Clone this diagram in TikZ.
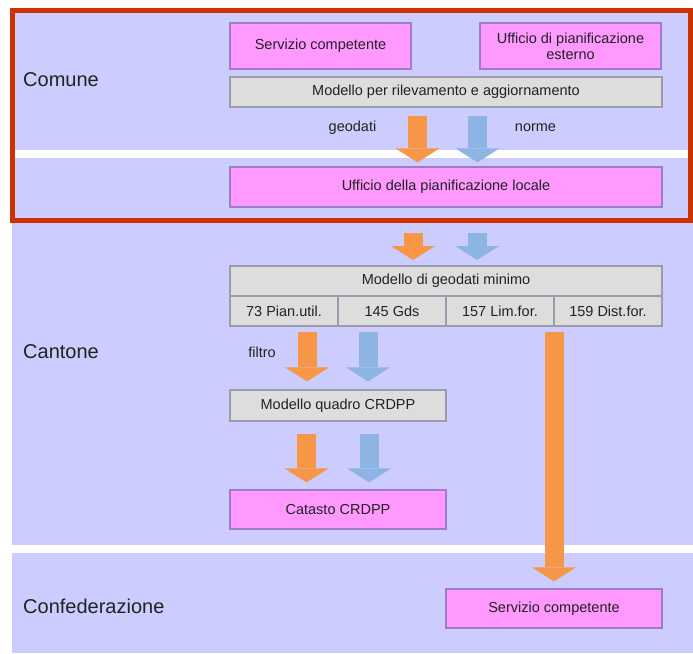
\documentclass[tikz,border=0pt]{standalone}
\usepackage{fontspec}
\setmainfont{Liberation Sans}
\usetikzlibrary{arrows.meta, positioning}

\definecolor{bandlilac}{HTML}{CCCCFF}
\definecolor{boxpink}{HTML}{FF99FF}
\definecolor{pinkedge}{HTML}{9A7FC8}
\definecolor{boxgray}{HTML}{DDDDDD}
\definecolor{grayedge}{HTML}{9C9CAC}
\definecolor{geoorange}{HTML}{F79646}
\definecolor{normblue}{HTML}{8DB4E2}
\definecolor{framered}{HTML}{CC3300}
\definecolor{inkgray}{HTML}{222222}

\begin{document}
\begin{tikzpicture}[x=1pt, y=1pt,
  every node/.style={text=inkgray, font=\fontsize{14.5}{16}\selectfont, inner sep=0pt},
  level/.style={font=\fontsize{20}{24}\selectfont, anchor=west},
  office/.style={draw=pinkedge, fill=boxpink, line width=1.2pt, align=center},
  model/.style={draw=grayedge, fill=boxgray, line width=1.2pt, align=center},
  cell/.style={model, outer sep=0pt, minimum width=108pt, minimum height=30pt},
  flow/.style={line width=19pt, -{Triangle[width=44pt, length=14pt, line width=0pt]}},
  geo/.style={flow, draw=geoorange},
  norm/.style={flow, draw=normblue}]
\useasboundingbox (0,0) rectangle (693,-653);
\fill[white] (0,0) rectangle (693,-653);

% bands
\fill[bandlilac] (12,-13) rectangle (693,-150);
\fill[bandlilac] (12,-158) rectangle (693,-545);
\fill[bandlilac] (12,-553) rectangle (693,-653);

\node[level] (comune) at (23,-80) {Comune};
\node[level] (cantone) at (23,-352) {Cantone};
\node[level] (confed) at (23,-606) {Confederazione};

% Comune
\node[office, minimum width=181pt, minimum height=46pt] (servcom) at (320.5,-46) {Servizio competente};
\node[office, minimum width=181pt, minimum height=46pt] (uffest) at (570.5,-46) {Ufficio di pianificazione\\esterno};
\node[model, minimum width=432pt, minimum height=30pt] (rilev) at (446,-92) {Modello per rilevamento e aggiornamento};
\node[office, minimum width=432pt, minimum height=40pt] (locale) at (446,-187) {Ufficio della pianificazione locale};
\node (geodati) at (352.5,-128) {geodati};
\node (norme) at (535.5,-128) {norme};

% Cantone
\node[model, outer sep=0pt, minimum width=432pt, minimum height=30pt] (minimo) at (446,-281) {Modello di geodati minimo};
\node[cell, anchor=north west] (pianutil) at (minimo.south west) {73 Pian.util.};
\node[cell, right=0pt of pianutil] (gds) {145 Gds};
\node[cell, right=0pt of gds] (limfor) {157 Lim.for.};
\node[cell, right=0pt of limfor] (distfor) {159 Dist.for.};
\node (filtro) at (262,-352) {filtro};
\node[model, minimum width=216pt, minimum height=31pt] (quadro) at (338,-405.5) {Modello quadro CRDPP};
\node[office, minimum width=216pt, minimum height=39pt] (catasto) at (338,-509.5) {Catasto CRDPP};

% Confederazione
\node[office, minimum width=216pt, minimum height=39pt] (servfed) at (554,-608.5) {Servizio competente};

% flussi
\draw[geo] ([xshift=-28.5pt,yshift=-8pt]rilev.south) -- ([xshift=-28.5pt,yshift=4pt]locale.north);
\draw[norm] ([xshift=31.5pt,yshift=-8pt]rilev.south) -- ([xshift=31.5pt,yshift=4pt]locale.north);
\draw[geo] ([xshift=-33pt,yshift=-25pt]locale.south) -- ([xshift=-33pt,yshift=6pt]minimo.north);
\draw[norm] ([xshift=31pt,yshift=-25pt]locale.south) -- ([xshift=31pt,yshift=6pt]minimo.north);
\draw[geo] ([xshift=23pt,yshift=-6pt]pianutil.south) -- ([xshift=-31pt,yshift=8pt]quadro.north);
\draw[norm] ([xshift=-24pt,yshift=-6pt]gds.south) -- ([xshift=30pt,yshift=8pt]quadro.north);
\draw[geo] ([xshift=-31.5pt,yshift=-12pt]quadro.south) -- ([xshift=-31.5pt,yshift=7pt]catasto.north);
\draw[norm] ([xshift=31pt,yshift=-12pt]quadro.south) -- ([xshift=31pt,yshift=7pt]catasto.north);
\draw[geo, shorten >=7pt] ([yshift=-6pt]limfor.south east) -- (limfor.south east |- servfed.north);

\draw[framered, line width=5pt] (12.5,-10) rectangle (690.5,-220);
\end{tikzpicture}
\end{document}
